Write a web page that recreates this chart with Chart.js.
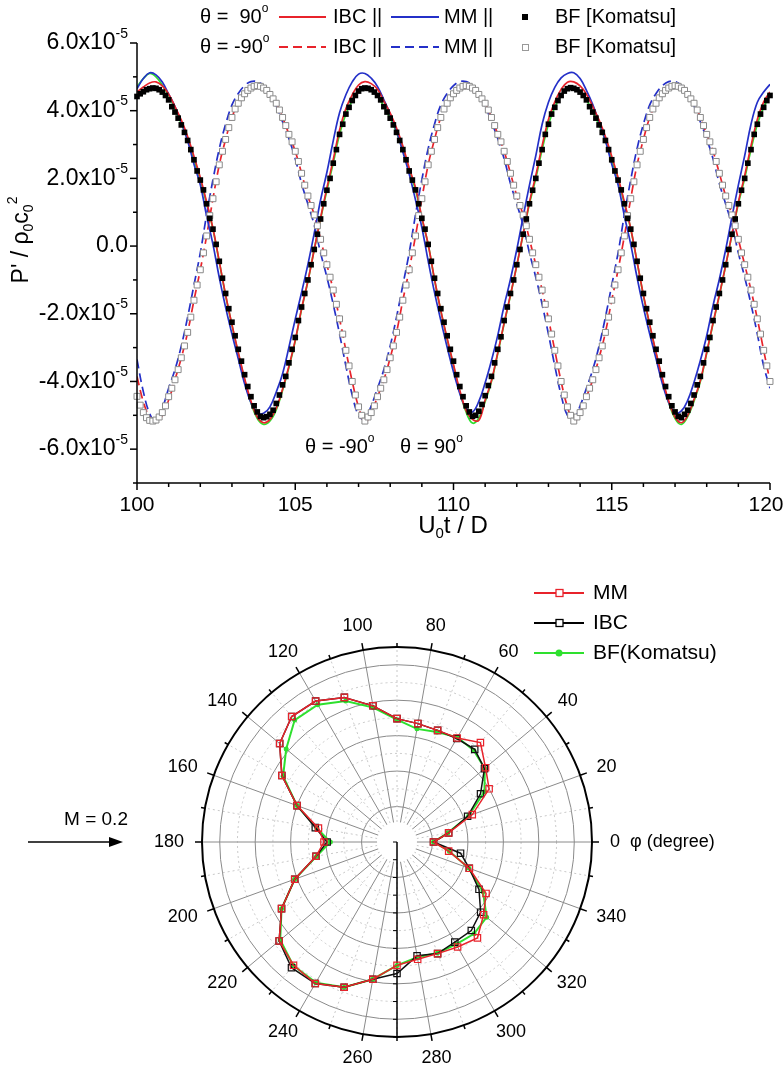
<!DOCTYPE html>
<html>
<head>
<meta charset="utf-8">
<script src="https://cdn.jsdelivr.net/npm/chart.js@4.4.1/dist/chart.umd.min.js"></script>
<style>
  html, body { margin: 0; padding: 0; background: #fff; }
  #wrap { position: relative; width: 783px; height: 1069px; overflow: hidden; background: #fff; }
  canvas { position: absolute; left: 0; }
  #top { top: 0; }
  #bot { top: 545px; }
</style>
</head>
<body>
<div id="wrap">
  <canvas id="top" width="783" height="545"></canvas>
  <canvas id="bot" width="783" height="524"></canvas>
</div>
<script>
// ---- pressure history, P'/rho0c0^2 in units of 1e-5 ----
const T_START = 100, BF_STEP = 0.1, LINE_STEP = 0.2;

// BF [Komatsu] symbols, one every 0.1
const BF_P90 = [4.42,4.50,4.56,4.62,4.65,4.67,
  4.66,4.62,4.55,4.45,4.32,4.12,3.96,3.78,3.58,3.36,3.12,2.85,2.55,2.22,1.95,1.66,1.25,0.82,0.5,0.05,-0.45,-0.95,-1.4,-1.85,-2.25,-2.65,-3.05,-3.4,-3.8,-4.15,-4.45,-4.72,-4.9,-5.03,
  -5.07,
  -5.04,-4.97,-4.85,-4.65,-4.4,-4.1,-3.85,-3.45,-3.05,-2.7,-2.2,-1.8,-1.4,-1.0,-0.55,-0.1,0.35,0.8,1.25,1.65,2.0,2.45,2.85,3.3,3.6,3.9,4.1,4.3,4.45,4.58,4.65,4.67,
  4.66,4.62,4.55,4.45,4.32,4.12,3.96,3.78,3.58,3.36,3.12,2.85,2.55,2.22,1.95,1.66,1.25,0.82,0.5,0.05,-0.45,-0.95,-1.4,-1.85,-2.25,-2.65,-3.05,-3.4,-3.8,-4.15,-4.45,-4.72,-4.9,-5.03,
  -5.0,-4.88,-4.68,-4.42,-4.12,-3.85,-3.45,-3.05,-2.68,-2.2,-1.8,-1.4,-1.0,-0.55,-0.1,0.35,0.8,1.25,1.65,2.0,2.45,2.85,3.3,3.6,3.9,4.1,4.3,4.45,4.58,4.65,4.68,
  4.66,4.62,4.55,4.45,4.32,4.12,3.96,3.78,3.58,3.36,3.12,2.85,2.55,2.22,1.95,1.66,1.25,0.82,0.5,0.05,-0.45,-0.95,-1.4,-1.85,-2.25,-2.65,-3.05,-3.4,-3.8,-4.15,-4.45,-4.72,-4.9,-5.03,
  -5.07,
  -4.97,-4.85,-4.65,-4.4,-4.1,-3.85,-3.45,-3.05,-2.7,-2.2,-1.8,-1.4,-1.0,-0.55,-0.1,0.35,0.8,1.25,1.65,2.0,2.45,2.85,3.3,3.6,3.9,4.1,4.3,4.45];

const BF_M90 = [-4.44,-4.7,-4.92,-5.07,-5.15,-5.17,
  -5.14,-5.05,-4.92,-4.72,-4.45,-4.2,-3.95,-3.65,-3.3,-2.95,-2.55,-2.1,-1.6,-1.15,-0.7,-0.2,0.3,0.9,1.4,1.9,2.4,2.8,3.15,3.5,3.8,4.05,4.22,4.38,4.5,4.6,4.67,4.72,4.74,
  4.72,4.67,4.6,4.48,4.35,4.22,4.02,3.8,3.56,3.3,3.08,2.8,2.5,2.15,1.8,1.48,1.2,0.92,0.6,0.2,-0.2,-0.55,-0.92,-1.3,-1.72,-2.15,-2.6,-3.08,-3.54,-4.0,-4.4,-4.75,-5.0,-5.17,
  -5.05,-4.92,-4.72,-4.45,-4.2,-3.95,-3.65,-3.3,-2.95,-2.55,-2.1,-1.6,-1.15,-0.7,-0.2,0.3,0.9,1.4,1.9,2.4,2.8,3.15,3.5,3.8,4.05,4.22,4.38,4.5,4.6,4.67,4.72,4.74,
  4.72,4.67,4.6,4.48,4.35,4.22,4.02,3.8,3.56,3.3,3.08,2.8,2.5,2.15,1.8,1.48,1.2,0.92,0.6,0.2,-0.2,-0.55,-0.92,-1.3,-1.72,-2.15,-2.6,-3.08,-3.54,-4.0,-4.4,-4.75,-5.0,-5.17,
  -5.05,-4.92,-4.72,-4.45,-4.2,-3.95,-3.65,-3.3,-2.95,-2.55,-2.1,-1.6,-1.15,-0.7,-0.2,0.3,0.9,1.4,1.9,2.4,2.8,3.15,3.5,3.8,4.05,4.22,4.38,4.5,4.6,4.67,4.72,4.74,
  4.72,4.67,4.6,4.48,4.35,4.22,4.02,3.8,3.56,3.3,3.08,2.8,2.5,2.15,1.8,1.48,1.2,0.92,0.6,0.2,-0.2,-0.55,-0.92,-1.3,-1.72,-2.15,-2.6,-3.08,-3.54,-4.0];

// simulation curves, one every 0.2
const IBC_P90 = [4.55,4.7,4.82,4.85,4.73,4.49,4.12,3.72,3.24,2.65,
  2.03,1.3,0.52,-0.46,-1.44,-2.32,-3.14,-3.91,-4.58,-5.05,
  -5.22,-5.12,-4.79,-4.22,-3.55,-2.78,-1.85,-1.03,-0.1,0.83,
  1.72,2.55,3.43,4.06,4.47,4.76,4.86,4.8,4.63,4.28,
  3.93,3.49,2.96,2.31,1.73,0.85,0.05,-0.98,-1.91,-2.73,
  -3.5,-4.27,-4.86,-5.12,-5.15,-4.55,-3.97,-3.14,-2.27,-1.44,
  -0.57,0.36,1.3,2.08,2.96,3.74,4.26,4.63,4.84,4.85,
  4.73,4.49,4.12,3.72,3.24,2.65,2.03,1.3,0.52,-0.46,
  -1.44,-2.32,-3.14,-3.91,-4.58,-5.05,-5.22,-5.0,-4.53,-3.97,
  -3.14,-2.27,-1.44,-0.57,0.36,1.3,2.08,2.96,3.74,4.26,
  4.55];
const MM_P90 = [4.65,4.95,5.12,5.06,4.85,4.49,4.12,3.66,3.11,2.42,
  1.81,0.89,0.05,-0.93,-1.81,-2.6,-3.33,-4.07,-4.63,-4.93,
  -4.94,-4.75,-4.31,-3.77,-2.99,-2.16,-1.37,-0.54,0.38,1.36,
  2.18,3.11,3.94,4.47,4.85,5.08,5.1,4.96,4.71,4.32,
  3.9,3.4,2.78,2.13,1.36,0.55,-0.44,-1.37,-2.2,-2.99,
  -3.72,-4.36,-4.8,-4.9,-4.59,-4.04,-3.38,-2.63,-1.76,-0.98,
  -0.1,0.87,1.8,2.67,3.6,4.25,4.69,4.97,5.1,5.12,
  4.95,4.6,4.18,3.66,3.11,2.42,1.81,0.89,0.05,-0.93,
  -1.81,-2.6,-3.33,-4.07,-4.63,-4.93,-4.87,-4.56,-4.02,-3.38,
  -2.65,-1.76,-0.98,-0.1,0.87,1.8,2.67,3.6,4.25,4.55,
  4.78];
const GREEN_P90 = [4.7,4.95,5.1,5.0,4.75,4.45,4.05,3.62,3.15,2.55,
  1.95,1.25,0.5,-0.47,-1.46,-2.34,-3.17,-3.95,-4.63,-5.1,
  -5.27,-5.17,-4.84,-4.26,-3.59,-2.81,-1.87,-1.04,-0.1,0.8,
  1.65,2.45,3.3,3.9,4.3,4.58,4.67,4.62,4.45,4.12,
  3.78,3.36,2.85,2.22,1.66,0.82,0.05,-0.99,-1.92,-2.76,
  -3.54,-4.32,-4.91,-5.23,-5.08,-4.6,-4.0,-3.17,-2.29,-1.46,
  -0.57,0.35,1.25,2.0,2.85,3.6,4.1,4.45,4.65,4.66,
  4.55,4.32,3.96,3.58,3.12,2.55,1.95,1.25,0.5,-0.47,
  -1.46,-2.34,-3.17,-3.95,-4.63,-5.1,-5.27,-5.04,-4.58,-4.0,
  -3.17,-2.29,-1.46,-0.57,0.35,1.25,2.0,2.85,3.6,4.1,
  4.45];
const IBC_M90 = [-3.85,-4.6,-5.05,-5.2,-5.0,-4.55,-3.95,-3.3,-2.55,-1.6,
  -0.7,0.3,1.4,2.4,3.15,3.8,4.22,4.5,4.67,4.74,
  4.67,4.48,4.22,3.8,3.3,2.8,2.15,1.48,0.92,0.2,
  -0.55,-1.3,-2.15,-3.08,-4.0,-4.75,-5.2,-4.92,-4.45,-3.95,
  -3.3,-2.55,-1.6,-0.7,0.3,1.4,2.4,3.15,3.8,4.22,
  4.5,4.67,4.74,4.67,4.48,4.22,3.8,3.3,2.8,2.15,
  1.48,0.92,0.2,-0.55,-1.3,-2.15,-3.08,-4.0,-4.75,-5.2,
  -4.92,-4.45,-3.95,-3.3,-2.55,-1.6,-0.7,0.3,1.4,2.4,
  3.15,3.8,4.22,4.5,4.67,4.74,4.67,4.48,4.22,3.8,
  3.3,2.8,2.15,1.48,0.92,0.2,-0.55,-1.3,-2.15,-3.08,
  -4.0];
const MM_M90 = [-3.35,-4.3,-4.95,-5.2,-4.8,-4.2,-3.65,-2.95,-2.1,-1.15,
  -0.2,0.93,1.96,2.88,3.6,4.17,4.51,4.74,4.86,4.86,
  4.74,4.48,4.14,3.67,3.17,2.58,1.85,1.24,0.62,-0.2,
  -0.92,-1.72,-2.6,-3.54,-4.4,-5.0,-5.12,-4.72,-4.2,-3.65,
  -2.95,-2.1,-1.15,-0.2,0.93,1.96,2.88,3.6,4.17,4.51,
  4.74,4.86,4.86,4.74,4.48,4.14,3.67,3.17,2.58,1.85,
  1.24,0.62,-0.2,-0.92,-1.72,-2.6,-3.54,-4.4,-5.0,-5.12,
  -4.72,-4.2,-3.65,-2.95,-2.1,-1.15,-0.2,0.93,1.96,2.88,
  3.6,4.17,4.51,4.74,4.86,4.86,4.74,4.48,4.14,3.67,
  3.17,2.58,1.85,1.24,0.62,-0.2,-0.92,-1.72,-2.6,-3.54,
  -4.2];

const X_MIN = 100, X_MAX = 120, Y_MIN = -7, Y_MAX = 6;
const X_TICKS = [100, 105, 110, 115, 120];
const Y_TICKS = [6, 4, 2, 0, -2, -4, -6];

// ---- directivity (radius in arbitrary ring units) ----
const PHI = [0,10,20,30,40,50,60,70,80,90,100,110,120,130,140,150,160,170,
             180,190,200,210,220,230,240,250,260,270,280,290,300,310,320,330,340,350];
const MM_R  = [1.03,1.48,2.26,3.0,3.26,3.66,3.39,3.35,3.39,3.48,3.9,4.34,4.59,4.62,4.32,3.75,3.0,2.25,
               2.06,2.32,3.07,3.76,4.34,4.54,4.61,4.36,3.93,3.48,3.36,3.35,3.42,3.53,3.19,2.9,2.17,1.48];
const IBC_R = [1.03,1.48,2.12,2.72,3.22,3.41,3.37,3.35,3.39,3.48,3.9,4.34,4.59,4.62,4.32,3.75,3.0,2.34,
               1.97,2.32,3.07,3.76,4.34,4.63,4.61,4.36,3.93,3.71,3.26,3.35,3.26,3.26,3.08,2.67,2.17,1.82];
const BF_R  = [1.03,1.45,2.15,2.85,3.23,3.37,3.41,3.3,3.24,3.45,3.85,4.23,4.47,4.49,4.08,3.71,3.0,2.3,
               1.88,2.3,3.07,3.76,4.3,4.55,4.58,4.36,3.93,3.48,3.3,3.33,3.33,3.38,3.3,2.8,2.15,1.5];
const PHI_LABELS = [0,20,40,60,80,100,120,140,160,180,200,220,240,260,280,300,320,340];
const R_MAX = 5.5, R_STEP = 0.5;

const FONT = '"Liberation Sans", Arial, Helvetica, sans-serif';
const RED = '#e8232b', BLUE = '#2430c8', GREEN = '#2ee02e';

// text with sub/superscripts: parts = [{t, s:'sup'|'sub'}]
function richWidth(ctx, parts, size){
  let w = 0;
  parts.forEach(p=>{ ctx.font = (p.s ? Math.round(size*0.62) : size) + 'px ' + FONT; w += ctx.measureText(p.t).width; });
  return w;
}
function drawRich(ctx, parts, x, y, size, align){
  const w = richWidth(ctx, parts, size);
  let cx = align === 'right' ? x - w : align === 'center' ? x - w/2 : x;
  ctx.textAlign = 'left'; ctx.textBaseline = 'middle'; ctx.fillStyle = '#000';
  parts.forEach(p=>{
    const fs = p.s ? Math.round(size*0.62) : size;
    ctx.font = fs + 'px ' + FONT;
    const dy = p.s === 'sup' ? -size*0.4 : p.s === 'sub' ? size*0.32 : 0;
    ctx.fillText(p.t, cx, y + dy);
    cx += ctx.measureText(p.t).width;
  });
}
function seg(ctx, x1, y1, x2, y2){ ctx.beginPath(); ctx.moveTo(x1, y1); ctx.lineTo(x2, y2); ctx.stroke(); }

const xy = (arr, step) => arr.map((v, i) => ({ x: T_START + i*step, y: v }));

// ---- top chart decorations: axes, ticks, labels, legend ----
const topDeco = {
  id: 'topDeco',
  afterDraw(chart){
    const ctx = chart.ctx, xs = chart.scales.x, ys = chart.scales.y, a = chart.chartArea;
    ctx.save();
    ctx.strokeStyle = '#000'; ctx.lineWidth = 1.5; ctx.setLineDash([]);
    seg(ctx, a.left, a.top, a.left, a.bottom);
    seg(ctx, a.left, a.bottom, a.right, a.bottom);
    for(let v = X_MIN; v <= X_MAX; v++){
      const px = xs.getPixelForValue(v);
      seg(ctx, px, a.bottom, px, a.bottom + ((v - X_MIN) % 5 === 0 ? 7 : 4));
    }
    for(let v = Y_MIN; v <= Y_MAX; v++){
      const py = ys.getPixelForValue(v);
      seg(ctx, a.left, py, a.left - (v % 2 === 0 ? 7 : 4), py);
    }
    X_TICKS.forEach(v=>{
      drawRich(ctx, [{t: String(v)}], Math.min(xs.getPixelForValue(v), 766), a.bottom + 22, 21, 'center');
    });
    Y_TICKS.forEach(v=>{
      const parts = v === 0 ? [{t:'0.0'}] : [{t: v.toFixed(1) + 'x10'}, {t:'-5', s:'sup'}];
      drawRich(ctx, parts, a.left - 9, ys.getPixelForValue(v), 23, 'right');
    });
    // axis titles
    drawRich(ctx, [{t:'U'},{t:'0',s:'sub'},{t:'t / D'}], 453, 526, 24, 'center');
    ctx.save(); ctx.translate(22, 240); ctx.rotate(-Math.PI/2);
    drawRich(ctx, [{t:"P' / \u03c1"},{t:'0',s:'sub'},{t:'c'},{t:'0',s:'sub'},{t:'2',s:'sup'}], 0, 0, 23, 'center');
    ctx.restore();
    // in-plot note
    drawRich(ctx, [{t:'\u03b8 = -90'},{t:'o',s:'sup'}], 305, 447, 20, 'left');
    drawRich(ctx, [{t:'\u03b8 = 90'},{t:'o',s:'sup'}], 400, 447, 20, 'left');
    // legend
    const rows = [
      { y: 17, lab: [{t:'\u03b8 =  90'},{t:'o',s:'sup'}], dash: [], filled: true },
      { y: 47, lab: [{t:'\u03b8 = -90'},{t:'o',s:'sup'}], dash: [9,5], filled: false }
    ];
    rows.forEach(r=>{
      drawRich(ctx, r.lab, 200, r.y, 20, 'left');
      ctx.lineWidth = 1.8; ctx.setLineDash(r.dash);
      ctx.strokeStyle = RED; seg(ctx, 279, r.y, 326, r.y);
      ctx.strokeStyle = BLUE; seg(ctx, 391, r.y, 439, r.y);
      ctx.setLineDash([]);
      drawRich(ctx, [{t:'IBC ||'}], 333, r.y, 20, 'left');
      drawRich(ctx, [{t:'MM ||'}], 444, r.y, 20, 'left');
      if(r.filled){ ctx.fillStyle = '#000'; ctx.fillRect(522, r.y - 3, 6, 6); }
      else { ctx.fillStyle = '#fff'; ctx.strokeStyle = '#999'; ctx.lineWidth = 1; ctx.fillRect(522, r.y - 3, 6, 6); ctx.strokeRect(522.5, r.y - 2.5, 6, 6); }
      drawRich(ctx, [{t:'BF [Komatsu]'}], 555, r.y, 20, 'left');
    });
    ctx.restore();
  }
};

new Chart(document.getElementById('top'), {
  type: 'line',
  data: {
    datasets: [
      { label: 'BF [Komatsu] 90', data: xy(BF_P90, BF_STEP), showLine: false, pointStyle: 'rect',
        pointRadius: 4, pointBackgroundColor: '#000', pointBorderColor: '#000', pointBorderWidth: 0, clip: false },
      { label: 'BF [Komatsu] -90', data: xy(BF_M90, BF_STEP), showLine: false, pointStyle: 'rect',
        pointRadius: 4.2, pointBackgroundColor: '#fff', pointBorderColor: '#8a8a8a', pointBorderWidth: 1, clip: false },
      { label: 'IBC 90', data: xy(IBC_P90, LINE_STEP), borderColor: RED, pointRadius: 0 },
      { label: 'MM 90', data: xy(MM_P90, LINE_STEP), borderColor: BLUE, pointRadius: 0 },
      { label: 'IBC -90', data: xy(IBC_M90, LINE_STEP), borderColor: RED, borderDash: [9,5], pointRadius: 0 },
      { label: 'MM -90', data: xy(MM_M90, LINE_STEP), borderColor: BLUE, borderDash: [9,5], pointRadius: 0 },
      { label: 'green 90', data: xy(GREEN_P90, LINE_STEP), borderColor: GREEN, pointRadius: 0 }
    ]
  },
  options: {
    responsive: false, animation: false, devicePixelRatio: 1,
    layout: { padding: { left: 137, right: 13, top: 43, bottom: 62 } },
    plugins: { legend: { display: false }, tooltip: { enabled: false } },
    elements: { line: { borderWidth: 1.7, tension: 0.4, fill: false } },
    scales: {
      x: { type: 'linear', min: X_MIN, max: X_MAX, display: false },
      y: { type: 'linear', min: Y_MIN, max: Y_MAX, display: false }
    }
  },
  plugins: [topDeco]
});

// ---- polar chart ----
// radar runs clockwise from startAngle, so feed the angles in descending order
const order = PHI.map((_, k) => (PHI.length - k) % PHI.length);
const pick = arr => order.map(i => arr[i]);
const rad = d => d * Math.PI / 180;

const polarDeco = {
  id: 'polarDeco',
  beforeDatasetsDraw(chart){
    const s = chart.scales.r, ctx = chart.ctx;
    const cx = s.xCenter, cy = s.yCenter, R = s.getDistanceFromCenterForValue(R_MAX);
    ctx.save();
    ctx.lineWidth = 1;
    for(let v = R_STEP; v < R_MAX - 1e-6; v += R_STEP){
      const major = Math.abs(v - Math.round(v)) < 1e-6;
      ctx.setLineDash(major ? [] : [2, 3]);
      ctx.strokeStyle = major ? '#8a8a8a' : '#c8c8c8';
      ctx.beginPath(); ctx.arc(cx, cy, s.getDistanceFromCenterForValue(v), 0, Math.PI*2); ctx.stroke();
    }
    for(let a = 0; a < 360; a += 10){
      const major = a % 20 === 0;
      ctx.setLineDash(major ? [] : [2, 3]);
      ctx.strokeStyle = major ? '#8a8a8a' : '#c8c8c8';
      seg(ctx, cx, cy, cx + Math.cos(rad(a))*R, cy - Math.sin(rad(a))*R);
    }
    ctx.setLineDash([]);
    ctx.fillStyle = '#fff';
    ctx.beginPath(); ctx.arc(cx, cy, 20, 0, Math.PI*2); ctx.fill();
    ctx.strokeStyle = '#000'; ctx.lineWidth = 2;
    ctx.beginPath(); ctx.arc(cx, cy, R, 0, Math.PI*2); ctx.stroke();
    ctx.lineWidth = 1.5;
    for(let a = 0; a < 360; a += 10){
      const len = a % 20 === 0 ? 7 : 4, c = Math.cos(rad(a)), sn = Math.sin(rad(a));
      seg(ctx, cx + c*R, cy - sn*R, cx + c*(R+len), cy - sn*(R+len));
    }
    // radial axis pointing down
    seg(ctx, cx, cy, cx, cy + R);
    ctx.lineWidth = 1;
    for(let v = 0; v <= R_MAX + 1e-6; v += R_STEP){
      const py = cy + s.getDistanceFromCenterForValue(v);
      seg(ctx, cx - 4, py, cx, py);
    }
    ctx.restore();
  },
  afterDraw(chart){
    const s = chart.scales.r, ctx = chart.ctx;
    const cx = s.xCenter, cy = s.yCenter, R = s.getDistanceFromCenterForValue(R_MAX);
    ctx.save();
    const LR = R + 18, size = 18;
    PHI_LABELS.forEach(a=>{
      const c = Math.cos(rad(a)), sn = Math.sin(rad(a));
      ctx.font = size + 'px ' + FONT;
      const w = ctx.measureText(String(a)).width, h = 13;
      const x = cx + c*LR + c*w/2, y = cy - sn*LR - sn*h/2;
      drawRich(ctx, [{t:String(a)}], x, y, size, 'center');
    });
    drawRich(ctx, [{t:'\u03c6 (degree)'}], cx + R + 38, cy, size, 'left');
    // flow direction
    drawRich(ctx, [{t:'M = 0.2'}], 96, cy - 22, 19, 'center');
    ctx.strokeStyle = '#000'; ctx.lineWidth = 1.5;
    seg(ctx, 28, cy, 114, cy);
    ctx.fillStyle = '#000';
    ctx.beginPath(); ctx.moveTo(123, cy); ctx.lineTo(109, cy - 5); ctx.lineTo(109, cy + 5); ctx.closePath(); ctx.fill();
    // legend
    const items = [
      { y: 48, lab: 'MM', col: RED, style: 'sq' },
      { y: 78, lab: 'IBC', col: '#000', style: 'sq' },
      { y: 108, lab: 'BF(Komatsu)', col: GREEN, style: 'dot' }
    ];
    items.forEach(it=>{
      ctx.strokeStyle = it.col; ctx.lineWidth = 1.8;
      seg(ctx, 534, it.y, 584, it.y);
      if(it.style === 'sq'){ ctx.fillStyle = '#fff'; ctx.fillRect(556, it.y - 3, 7, 7); ctx.lineWidth = 1.3; ctx.strokeRect(556, it.y - 3.5, 7, 7); }
      else { ctx.fillStyle = it.col; ctx.beginPath(); ctx.arc(559, it.y, 3.5, 0, Math.PI*2); ctx.fill(); }
      drawRich(ctx, [{t: it.lab}], 593, it.y, 21, 'left');
    });
    ctx.restore();
  }
};

new Chart(document.getElementById('bot'), {
  type: 'radar',
  data: {
    labels: pick(PHI),
    datasets: [
      { label: 'MM', data: pick(MM_R), borderColor: RED, borderWidth: 1.5, fill: false,
        pointStyle: 'rect', pointRadius: 4.5, pointBorderColor: RED, pointBorderWidth: 1.2, pointBackgroundColor: 'rgba(255,255,255,0)' },
      { label: 'IBC', data: pick(IBC_R), borderColor: '#111', borderWidth: 1.5, fill: false,
        pointStyle: 'rect', pointRadius: 4.5, pointBorderColor: '#111', pointBorderWidth: 1.2, pointBackgroundColor: 'rgba(255,255,255,0)' },
      { label: 'BF(Komatsu)', data: pick(BF_R), borderColor: GREEN, borderWidth: 2, fill: false,
        pointStyle: 'circle', pointRadius: 2.5, pointBorderWidth: 0, pointBackgroundColor: GREEN }
    ]
  },
  options: {
    responsive: false, animation: false, devicePixelRatio: 1,
    layout: { padding: { left: 202, right: 191, top: 102, bottom: 32 } },
    plugins: { legend: { display: false }, tooltip: { enabled: false } },
    elements: { line: { tension: 0 } },
    scales: {
      r: { min: 0, max: R_MAX, startAngle: 90,
           grid: { display: false }, angleLines: { display: false },
           pointLabels: { display: false }, ticks: { display: false } }
    }
  },
  plugins: [polarDeco]
});
</script>
</body>
</html>
